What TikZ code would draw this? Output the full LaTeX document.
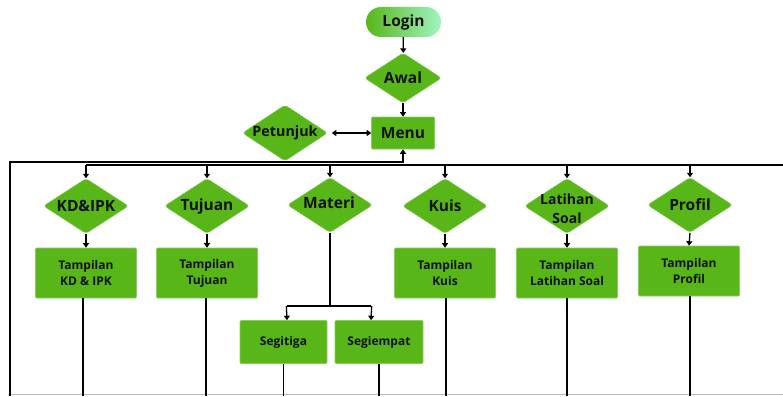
\documentclass[tikz,border=0pt]{standalone}
\usepackage{fontspec}
\setmainfont{Open Sans}
\usetikzlibrary{shapes.geometric,arrows.meta}
\definecolor{gr}{RGB}{88,182,24}
\definecolor{grl}{RGB}{160,245,195}
\definecolor{txt}{RGB}{17,17,17}
\tikzset{
 dia/.style={diamond, fill=gr, draw=gr!80!white, line width=0.5pt, inner sep=0pt, minimum width=85pt, minimum height=55pt, rounded corners=3pt},
 box/.style={rectangle, fill=gr, draw=gr!70!white, line width=0.6pt, inner sep=0pt, minimum width=101pt, minimum height=50pt, rounded corners=1pt},
 big/.style={font=\bfseries\fontsize{15.5}{18}\selectfont, inner sep=0pt, text=txt},
 mid/.style={font=\bfseries\fontsize{14}{19}\selectfont, inner sep=0pt, text=txt, align=center},
 sml/.style={font=\bfseries\fontsize{12}{16}\selectfont, inner sep=0pt, text=txt, align=center},
 ln/.style={line width=1.3pt, black},
 arr/.style={ln, -{Triangle[width=6pt,length=4.5pt]}},
 darr/.style={ln, {Triangle[width=6pt,length=4.5pt]}-{Triangle[width=6pt,length=4.5pt]}},
}
\begin{document}
\begin{tikzpicture}[x=1pt,y=-1pt]
\useasboundingbox (0,0) rectangle (783,396);
% top
\node[rectangle, rounded corners=15pt, minimum width=75pt, minimum height=30pt, left color=gr, right color=grl, draw=none, inner sep=0pt] (login) at (403.5,22) {};
\node[big] (loginT) at (login) {Login};
\node[dia, minimum width=77pt, minimum height=50pt] (awal) at (403,78) {};
\node[big] (awalT) at (awal) {Awal};
\node[box, minimum width=63pt, minimum height=32pt] (menu) at (403,133) {};
\node[big] (menuT) at (menu) {Menu};
\node[dia, minimum width=85pt, minimum height=56pt] (pet) at (285,133) {};
\node[mid, font=\bfseries\fontsize{14.3}{18}\selectfont] (petT) at (pet) {Petunjuk};
\draw[arr] (login) -- (awal);
\draw[arr] (awal) -- (menu);
\draw[darr, shorten <=4pt] (pet.east) -- (menu.west);
% diamonds row
\node[dia] (kd) at (86,206) {};
\node[big] (kdT) at (kd) {KD\&IPK};
\node[dia] (tuj) at (207,206) {};
\node[big] (tujT) at (tuj) {Tujuan};
\node[dia] (mat) at (330,205) {};
\node[big] (matT) at (329,203) {Materi};
\node[dia] (kuis) at (445,206) {};
\node[big] (kuisT) at (kuis) {Kuis};
\node[dia] (lat) at (567,206) {};
\node[mid] (latT) at (567,209) {Latihan\\Soal};
\node[dia] (prof) at (690,205) {};
\node[big] (profT) at (prof) {Profil};
% boxes
\node[box] (tkd) at (86,273) {};
\node[sml] (tkdT) at (tkd) {Tampilan\\KD \& IPK};
\node[box] (ttuj) at (207,273) {};
\node[sml] (ttujT) at (ttuj) {Tampilan\\Tujuan};
\node[box] (tkuis) at (445,273) {};
\node[sml] (tkuisT) at (tkuis) {Tampilan\\Kuis};
\node[box] (tlat) at (567,273) {};
\node[sml] (tlatT) at (tlat) {Tampilan\\Latihan Soal};
\node[box] (tprof) at (689,271) {};
\node[sml] (tprofT) at (tprof) {Tampilan\\Profil};
\node[box, minimum width=87pt, minimum height=43pt] (seg3) at (283.5,342) {};
\node[sml] (seg3T) at (seg3) {Segitiga};
\node[box, minimum width=88pt, minimum height=43pt] (seg4) at (379,342) {};
\node[sml] (seg4T) at (seg4) {Segiempat};
% coordinates
\coordinate (dl) at (86,165);
\coordinate (dr) at (783,165);
\coordinate (rl) at (10,396);
\coordinate (rt) at (10,162);
\coordinate (bot) at (0,396);
\coordinate (fork) at (330,306);
\coordinate (fL) at (287,306);
\coordinate (fR) at (371,306);
% bottom faint line
\draw[gray!55, line width=1pt] (8,394.5) -- (783,394.5);
% return loop
\draw[arr] (rl) -- (rt) -| (menu.south);
% distribution line
\draw[ln] (dl) -- (dr);
\foreach \n in {kd,tuj,mat,kuis,lat,prof}{
  \draw[arr] (\n.north |- dl) -- (\n.north);
}
\foreach \n/\m in {kd/tkd,tuj/ttuj,kuis/tkuis,lat/tlat,prof/tprof}{
  \draw[arr] (\n.south) -- (\m.north);
}
% materi fork
\draw[ln] (mat.south) -- (fork);
\draw[ln] (fL) -- (fR);
\draw[arr] ([xshift=-0.65pt]fL) -- (fL |- seg3.north);
\draw[arr] ([xshift=0.65pt]fR) -- (fR |- seg4.north);
% lines down
\draw[ln] ([xshift=-3pt]tkd.south) -- ([xshift=-3pt]tkd.south |- bot);
\draw[ln] ([xshift=-1pt]ttuj.south) -- ([xshift=-1pt]ttuj.south |- bot);
\draw[ln] (seg3.south) -- (seg3.south |- bot);
\draw[ln] (seg4.south) -- (seg4.south |- bot);
\draw[ln] ([xshift=1pt]tkuis.south) -- ([xshift=1pt]tkuis.south |- bot);
\draw[ln] (tlat.south) -- (tlat.south |- bot);
\draw[ln] ([xshift=1pt]tprof.south) -- ([xshift=1pt]tprof.south |- bot);
\end{tikzpicture}
\end{document}
